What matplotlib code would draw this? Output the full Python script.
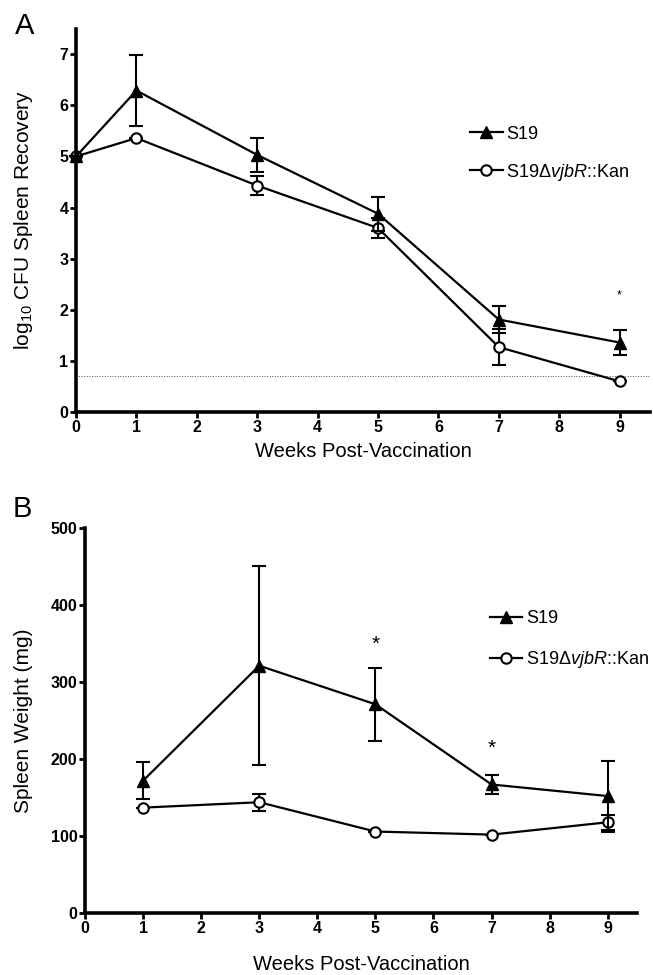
import matplotlib
matplotlib.use("Agg")
import matplotlib.pyplot as plt

plt.rcParams['font.family'] = ['Liberation Sans', 'DejaVu Sans']
plt.rcParams['mathtext.fontset'] = 'custom'
plt.rcParams['mathtext.rm'] = 'Liberation Sans'
plt.rcParams['mathtext.it'] = 'Liberation Sans:italic'

# ---------------- Data ----------------
# Panel A: log10 CFU spleen recovery
weeks_a = [0, 1, 3, 5, 7, 9]
s19_cfu = [5.00, 6.29, 5.03, 3.88, 1.81, 1.36]
s19_cfu_err = [0.0, 0.70, 0.33, 0.33, 0.27, 0.24]
mut_cfu = [5.00, 5.36, 4.43, 3.60, 1.27, 0.60]
mut_cfu_err = [0.0, 0.0, 0.18, 0.20, 0.35, 0.0]
detection_limit = 0.70
star_a_weeks = [9]
star_a_vals = [2.29]

# Panel B: spleen weight (mg)
weeks_b = [1, 3, 5, 7, 9]
s19_wt = [172, 321, 271, 167, 152]
s19_wt_err = [24, 129, 47, 12, 46]
mut_wt = [137, 144, 106, 102, 118]
mut_wt_err = [0, 11, 0, 0, 10]
star_b_weeks = [5, 7]
star_b_vals = [349, 214]

xticks = list(range(10))
yticks_a = list(range(8))
yticks_b = [0, 100, 200, 300, 400, 500]

label_s19 = 'S19'
label_mut = r'S19Δ$\mathit{vjbR}$::Kan'

# ---------------- Figure ----------------
fig = plt.figure(figsize=(6.53, 9.75), dpi=100)
axA = fig.add_axes([0.1164, 0.5774, 0.8787, 0.3932])
axB = fig.add_axes([0.1302, 0.0633, 0.8449, 0.3955])


def style_axes(ax):
    for s in ['top', 'right']:
        ax.spines[s].set_visible(False)
    for s in ['left', 'bottom']:
        ax.spines[s].set_linewidth(2.6)
    ax.tick_params(direction='out', length=4, width=2, pad=1.5, labelsize=11.5)
    for lab in ax.get_xticklabels() + ax.get_yticklabels():
        lab.set_fontweight('bold')


def draw(ax, x, y1, e1, y2, e2):
    c2 = ax.errorbar(x, y2, yerr=e2, fmt='-o', color='black', lw=1.6,
                     ms=7.5, mfc='white', mec='black', mew=1.5,
                     elinewidth=1.5, capsize=5, capthick=1.5, zorder=3,
                     clip_on=False)
    c1 = ax.errorbar(x, y1, yerr=e1, fmt='-^', color='black', lw=1.6,
                     ms=8.5, mfc='black', mec='black',
                     elinewidth=1.5, capsize=5, capthick=1.5, zorder=4,
                     clip_on=False)
    for c in (c1, c2):
        for art in c.lines[1]:
            art.set_clip_on(False)
        for art in c.lines[2]:
            art.set_clip_on(False)
    return c1[0], c2[0]


# Panel A
hA1, hA2 = draw(axA, weeks_a, s19_cfu, s19_cfu_err, mut_cfu, mut_cfu_err)
axA.axhline(detection_limit, ls=':', lw=0.7, color='#555555', zorder=1)
axA.set_xlim(0, 9.5)
axA.set_ylim(0, 7.5)
axA.set_xticks(xticks)
axA.set_yticks(yticks_a)
style_axes(axA)
axA.set_xlabel('Weeks Post-Vaccination', fontsize=14.5)
axA.set_ylabel(r'log$_{\mathregular{10}}$ CFU Spleen Recovery', fontsize=15)
axA.xaxis.set_label_coords(0.5, -0.078)
axA.yaxis.set_label_coords(-0.072, 0.5)
for wx, wy in zip(star_a_weeks, star_a_vals):
    axA.text(wx, wy, '*', ha='center', va='center', fontsize=9)
axA.legend([hA1, hA2], [label_s19, label_mut], loc='upper left',
           bbox_to_anchor=(0.687, 0.747), frameon=False, fontsize=13,
           handlelength=1.8, handletextpad=0.2, labelspacing=1.05,
           borderpad=0, borderaxespad=0)
fig.text(0.023, 0.988, 'A', fontsize=21, va='top', ha='left')

# Panel B
hB1, hB2 = draw(axB, weeks_b, s19_wt, s19_wt_err, mut_wt, mut_wt_err)
axB.set_xlim(0, 9.5)
axB.set_ylim(0, 500)
axB.set_xticks(xticks)
axB.set_yticks(yticks_b)
style_axes(axB)
axB.set_xlabel('Weeks Post-Vaccination', fontsize=14.5)
axB.set_ylabel('Spleen Weight (mg)', fontsize=15)
axB.xaxis.set_label_coords(0.5, -0.108)
axB.yaxis.set_label_coords(-0.094, 0.5)
for wx, wy in zip(star_b_weeks, star_b_vals):
    axB.text(wx, wy, '*', ha='center', va='center', fontsize=15)
axB.legend([hB1, hB2], [label_s19, label_mut], loc='upper left',
           bbox_to_anchor=(0.734, 0.786), frameon=False, fontsize=13,
           handlelength=1.8, handletextpad=0.2, labelspacing=1.2,
           borderpad=0, borderaxespad=0)
fig.text(0.019, 0.492, 'B', fontsize=21, va='top', ha='left')

fig.savefig('out.png', dpi=100)
